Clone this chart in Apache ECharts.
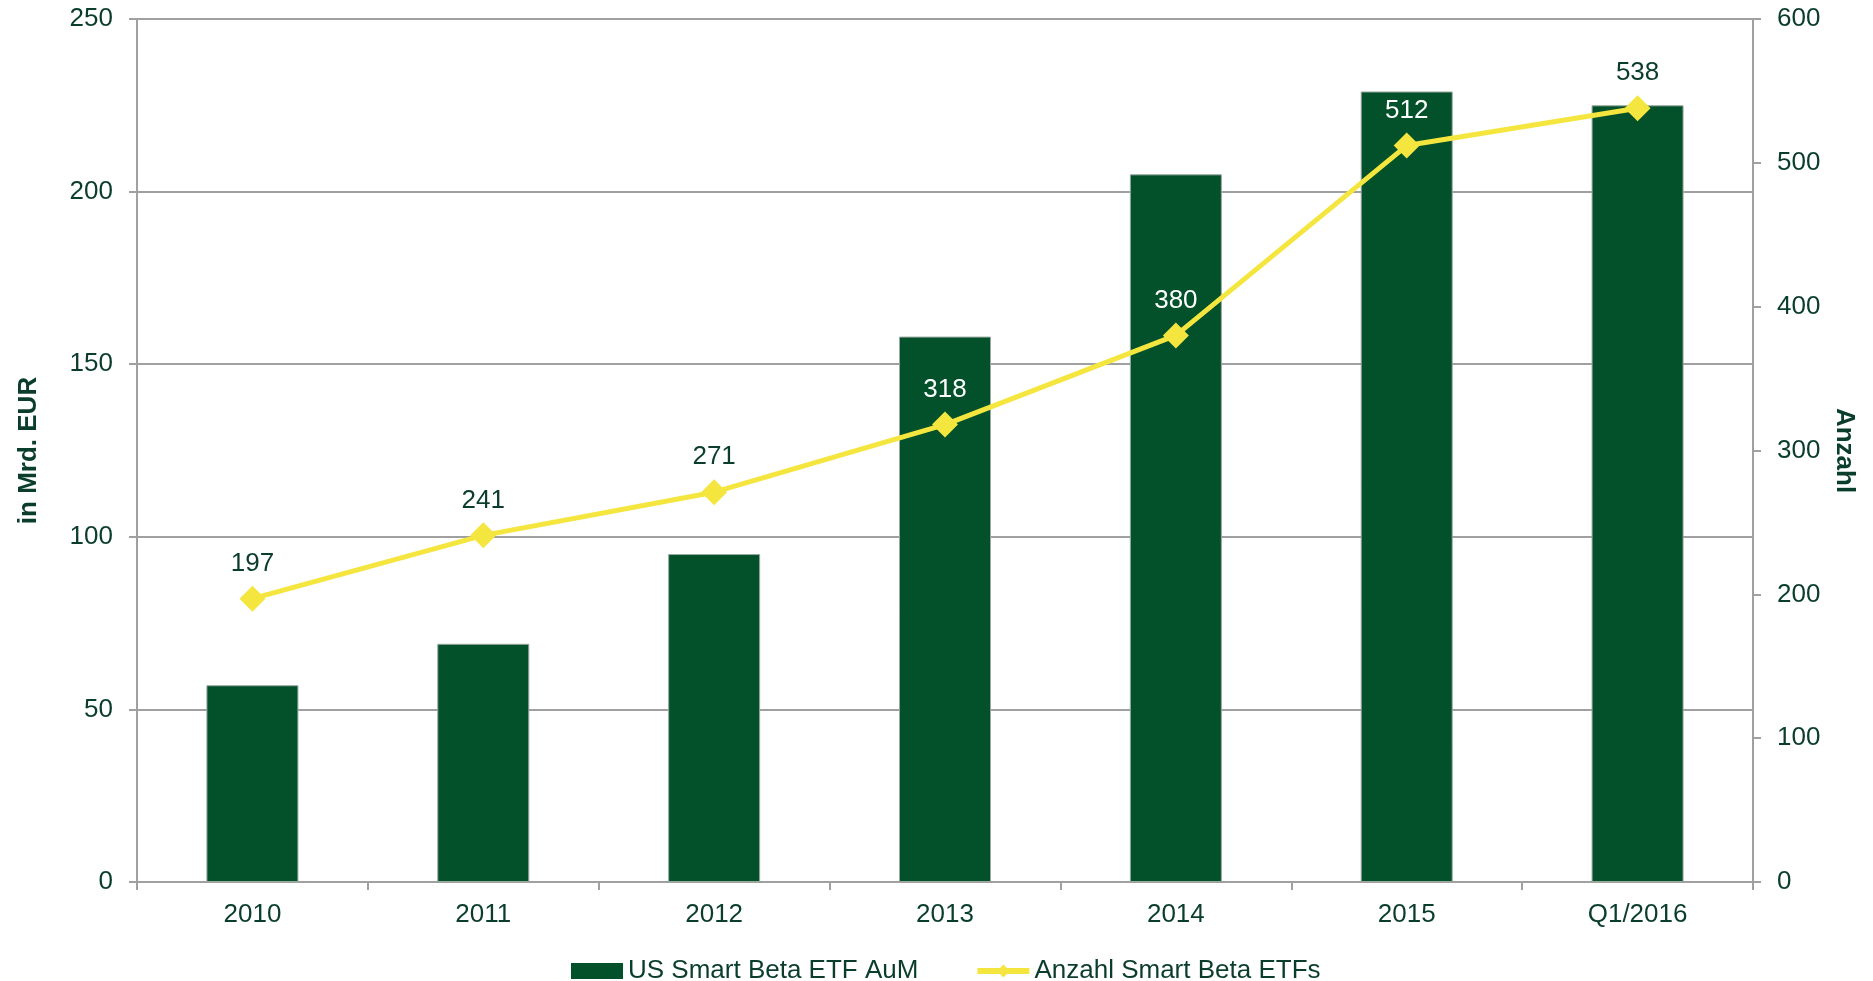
<!DOCTYPE html>
<html>
<head>
<meta charset="utf-8">
<style>
  html, body { margin: 0; padding: 0; background: #fff; }
  #chart { width: 1873px; height: 981px; }
</style>
<script src="https://cdn.jsdelivr.net/npm/echarts@6/dist/echarts.min.js"></script>
</head>
<body>
<div id="chart"></div>
<script>
var categories = ['2010', '2011', '2012', '2013', '2014', '2015', 'Q1/2016'];
var aumValues = [57, 69, 95, 158, 205, 229, 225];
var etfCounts = [197, 241, 271, 318, 380, 512, 538];
var leftMax = 250;
var rightMax = 600;

var ink = '#0b3d2c';
var green = '#02512a';
var yellow = '#f5e63f';
var rule = '#a0a0a0';
var font = 'Liberation Sans, Arial, sans-serif';

// label sits above the point; white where it falls inside the bar
var countData = etfCounts.map(function(v, i) {
  var labelPos = (v + 26) / rightMax;
  var inBar = labelPos < aumValues[i] / leftMax;
  return { value: v, label: { color: inBar ? '#ffffff' : ink } };
});

var chart = echarts.init(document.getElementById('chart'));
chart.setOption({
  animation: false,
  textStyle: { fontFamily: font },
  grid: { left: 137, right: 120, top: 19, bottom: 99 },
  legend: {
    left: 566,
    top: 953,
    itemWidth: 52,
    itemHeight: 16,
    itemGap: 56,
    textStyle: { color: ink, fontSize: 26, fontFamily: font },
    data: [
      { name: 'US Smart Beta ETF AuM', icon: 'rect', itemStyle: { borderWidth: 0 } },
      { name: 'Anzahl Smart Beta ETFs', lineStyle: { width: 6 } }
    ]
  },
  xAxis: {
    type: 'category',
    data: categories,
    boundaryGap: true,
    axisLine: { lineStyle: { color: rule, width: 2 } },
    axisTick: { show: true, length: 8, lineStyle: { color: rule, width: 2 } },
    axisLabel: { color: ink, fontSize: 26, margin: 20 }
  },
  yAxis: [
    {
      type: 'value',
      min: 0, max: leftMax, interval: 50,
      name: 'in Mrd. EUR',
      nameLocation: 'middle',
      nameGap: 95,
      nameTextStyle: { color: ink, fontSize: 26, fontWeight: 'bold' },
      axisLine: { show: true, lineStyle: { color: rule, width: 2 } },
      axisTick: { show: true, length: 8, lineStyle: { color: rule, width: 2 } },
      axisLabel: { color: ink, fontSize: 26, margin: 24 },
      splitLine: { lineStyle: { color: rule, width: 2 } }
    },
    {
      type: 'value',
      min: 0, max: rightMax, interval: 100,
      name: 'Anzahl',
      nameLocation: 'middle',
      nameGap: 72,
      nameRotate: -90,
      nameTextStyle: { color: ink, fontSize: 26, fontWeight: 'bold' },
      axisLine: { show: true, lineStyle: { color: rule, width: 2 } },
      axisTick: { show: true, length: 8, lineStyle: { color: rule, width: 2 } },
      axisLabel: { color: ink, fontSize: 26, margin: 24 },
      splitLine: { show: false }
    }
  ],
  series: [
    {
      name: 'US Smart Beta ETF AuM',
      type: 'bar',
      data: aumValues,
      barWidth: 92,
      itemStyle: { color: green, borderColor: '#9aa89f', borderWidth: 1 }
    },
    {
      name: 'Anzahl Smart Beta ETFs',
      type: 'line',
      yAxisIndex: 1,
      data: countData,
      symbol: 'diamond',
      symbolSize: 26,
      lineStyle: { color: yellow, width: 5 },
      itemStyle: { color: yellow },
      label: {
        show: true,
        position: 'top',
        distance: 9,
        fontSize: 26,
        color: ink
      },
      z: 5
    }
  ]
});
</script>
</body>
</html>
